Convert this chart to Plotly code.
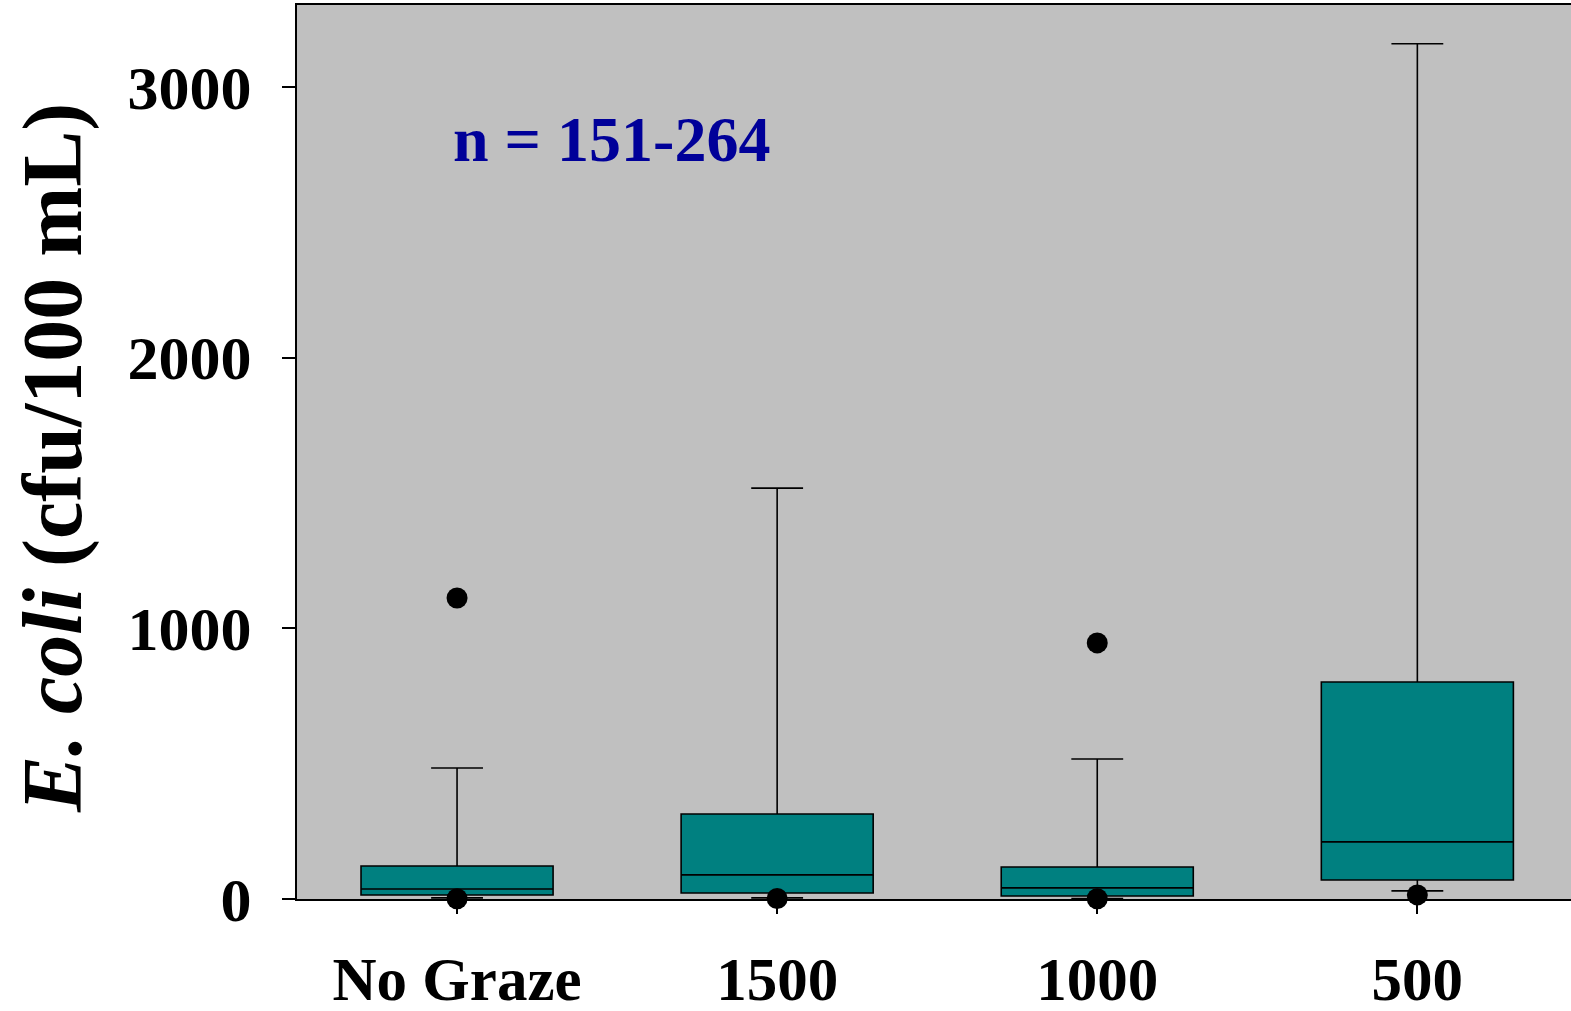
import plotly.graph_objects as go

categories = ["No Graze", "1500", "1000", "500"]
q1 = [15, 22, 11, 70]
median = [37, 89, 41, 211]
q3 = [122, 314, 118, 802]
lower_whisker = [4, 4, 2, 30]
upper_whisker = [484, 1518, 517, 3160]
outlier_cats = ["No Graze", "No Graze", "1500", "1000", "1000", "500"]
outlier_vals = [1112, 1, 2, 946, 1, 15]
y_ticks = [0, 1000, 2000, 3000]

FONT = "Liberation Serif"
W, H = 1571, 1011
L, R, T, B = 297, 0, 5, 112

fig = go.Figure()
fig.add_trace(go.Box(
    x=categories, q1=q1, median=median, q3=q3,
    lowerfence=lower_whisker, upperfence=upper_whisker,
    fillcolor="#008080", line=dict(color="black", width=1.6),
    whiskerwidth=0.27, width=0.6, boxpoints=False, showlegend=False,
    hoverinfo="skip",
))
fig.add_trace(go.Scatter(
    x=outlier_cats, y=outlier_vals, mode="markers",
    marker=dict(color="black", size=21, line=dict(width=0)),
    cliponaxis=False, showlegend=False,
))

fig.update_layout(
    width=W, height=H,
    margin=dict(l=L, r=R, t=T, b=B, pad=0, autoexpand=False),
    paper_bgcolor="white", plot_bgcolor="#C0C0C0",
    font=dict(family=FONT, color="black"),
)
fig.update_xaxes(
    type="category", categoryorder="array", categoryarray=categories,
    range=[-0.5, 3.48], automargin=False,
    showline=True, linecolor="black", linewidth=2, mirror=True,
    ticks="outside", ticklen=13, tickwidth=2, tickcolor="black",
    showgrid=False, zeroline=False,
    tickfont=dict(family=FONT, size=61, color="black", weight="bold"),
    ticklabelstandoff=13,
)
fig.update_yaxes(
    range=[0, 3303], tickvals=y_ticks, ticktext=[str(v) for v in y_ticks],
    automargin=False,
    showline=True, linecolor="black", linewidth=2, mirror=False,
    ticks="outside", ticklen=13, tickwidth=2, tickcolor="black",
    showgrid=False, zeroline=False,
    tickfont=dict(family=FONT, size=62, color="black", weight="bold"),
    ticklabelstandoff=18,
)

fig.add_annotation(
    text="<b><i>E. coli</i> (cfu/100 mL)</b>", textangle=-90,
    xref="paper", yref="paper",
    x=-(L - 53) / (W - L - R), y=(H - B - 458) / (H - T - B),
    xanchor="center", yanchor="middle", showarrow=False,
    font=dict(family=FONT, size=84, color="black"),
)
fig.add_annotation(
    text="<b>n = 151-264</b>",
    xref="paper", yref="paper",
    x=(611 - L) / (W - L - R), y=(H - B - 140) / (H - T - B),
    xanchor="center", yanchor="middle", showarrow=False,
    font=dict(family=FONT, size=64, color="#000099"),
)

fig.write_html(
    "out.html",
    config={"displayModeBar": False},
    post_script="document.body.style.margin='0';document.body.style.overflow='hidden';",
)
